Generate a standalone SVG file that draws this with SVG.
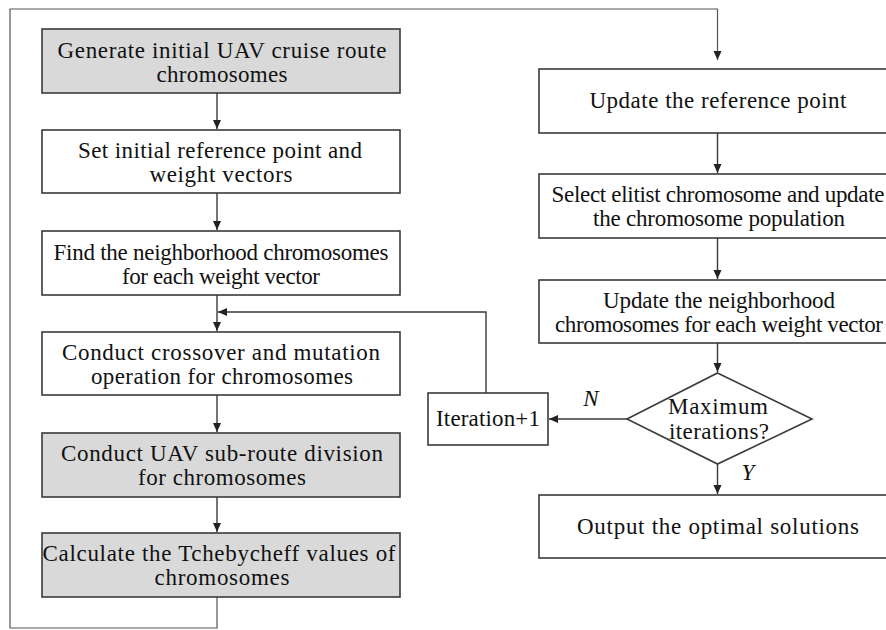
<svg xmlns="http://www.w3.org/2000/svg" width="886" height="630" viewBox="0 0 886 630">
<style>
.box{fill:#ffffff;stroke:#3a3a3a;stroke-width:1.6}
.gray{fill:#d9d9d9}
.t{font-family:"Liberation Serif","Times New Roman",serif;font-size:23px;fill:#111;text-anchor:middle}
.lbl{font-family:"Liberation Serif","Times New Roman",serif;font-size:23px;font-style:italic;fill:#111;text-anchor:middle}
.c{fill:none;stroke:#3a3a3a;stroke-width:1.4}
.frame{fill:none;stroke:#555;stroke-width:1.2}
</style>
<defs>
<marker id="ah" markerWidth="10" markerHeight="10" refX="9" refY="5" orient="auto" markerUnits="userSpaceOnUse">
<path d="M0,1 L9,5 L0,9 Z" fill="#222"/>
</marker>
</defs>
<rect x="0" y="0" width="886" height="630" fill="#ffffff"/>
<g id="connectors">
<path class="frame" d="M217,597 V628 H10 V9 H717.5 V60" marker-end="url(#ah)"/>
<path class="c" d="M217,93 V129" marker-end="url(#ah)"/>
<path class="c" d="M217,193 V230" marker-end="url(#ah)"/>
<path class="c" d="M217,295 V331" marker-end="url(#ah)"/>
<path class="c" d="M486,393 V312 H218" marker-end="url(#ah)"/>
<path class="c" d="M217,395 V432" marker-end="url(#ah)"/>
<path class="c" d="M217,497 V532" marker-end="url(#ah)"/>
<path class="c" d="M717.5,133 V173" marker-end="url(#ah)"/>
<path class="c" d="M717.5,238 V279" marker-end="url(#ah)"/>
<path class="c" d="M717.5,343 V372" marker-end="url(#ah)"/>
<path class="c" d="M627,419 H549" marker-end="url(#ah)"/>
<path class="c" d="M717.5,464 V494" marker-end="url(#ah)"/>
<text class="lbl" x="591" y="406">N</text>
<text class="lbl" x="748" y="480">Y</text>
</g>
<g id="n1"><rect class="box gray" x="42" y="29" width="358" height="64"/>
<text class="t" x="222" y="58" textLength="329" lengthAdjust="spacing">Generate initial UAV cruise route</text><text class="t" x="222" y="82" textLength="131" lengthAdjust="spacing">chromosomes</text></g>
<g id="n2"><rect class="box" x="42" y="130" width="358" height="63"/>
<text class="t" x="220" y="158" textLength="284" lengthAdjust="spacing">Set initial reference point and</text><text class="t" x="221" y="182" textLength="143" lengthAdjust="spacing">weight vectors</text></g>
<g id="n3"><rect class="box" x="42" y="231" width="358" height="64"/>
<text class="t" x="221" y="260" textLength="335" lengthAdjust="spacing">Find the neighborhood chromosomes</text><text class="t" x="221" y="284" textLength="198" lengthAdjust="spacing">for each weight vector</text></g>
<g id="n4"><rect class="box" x="42" y="332" width="358" height="63"/>
<text class="t" x="221" y="360" textLength="318" lengthAdjust="spacing">Conduct crossover and mutation</text><text class="t" x="222" y="384" textLength="262" lengthAdjust="spacing">operation for chromosomes</text></g>
<g id="n5"><rect class="box gray" x="42" y="433" width="358" height="64"/>
<text class="t" x="222" y="461" textLength="322" lengthAdjust="spacing">Conduct UAV sub-route division</text><text class="t" x="222" y="485" textLength="168" lengthAdjust="spacing">for chromosomes</text></g>
<g id="n6"><rect class="box gray" x="42" y="533" width="358" height="64"/>
<text class="t" x="219" y="561" textLength="353" lengthAdjust="spacing">Calculate the Tchebycheff values of</text><text class="t" x="222" y="585" textLength="135" lengthAdjust="spacing">chromosomes</text></g>
<g id="r1"><rect class="box" x="539" y="69" width="358" height="64"/>
<text class="t" x="718" y="108" textLength="257" lengthAdjust="spacing">Update the reference point</text></g>
<g id="r2"><rect class="box" x="539" y="174" width="358" height="64"/>
<text class="t" x="718" y="202" textLength="333" lengthAdjust="spacing">Select elitist chromosome and update</text><text class="t" x="719" y="226" textLength="252" lengthAdjust="spacing">the chromosome population</text></g>
<g id="r3"><rect class="box" x="539" y="280" width="358" height="63"/>
<text class="t" x="719" y="308" textLength="232" lengthAdjust="spacing">Update the neighborhood</text><text class="t" x="719" y="332" textLength="328" lengthAdjust="spacing">chromosomes for each weight vector</text></g>
<g id="d1"><polygon class="box" points="717.5,373 812,419 717.5,464 627,419"/>
<text class="t" x="718" y="414" textLength="100" lengthAdjust="spacing">Maximum</text><text class="t" x="719" y="439" textLength="100" lengthAdjust="spacing">iterations?</text></g>
<g id="it"><rect class="box" x="428" y="393" width="120" height="52"/>
<text class="t" x="488" y="426" textLength="104" lengthAdjust="spacing">Iteration+1</text></g>
<g id="out"><rect class="box" x="539" y="495" width="358" height="63"/>
<text class="t" x="718" y="534" textLength="282" lengthAdjust="spacing">Output the optimal solutions</text></g>
</svg>
